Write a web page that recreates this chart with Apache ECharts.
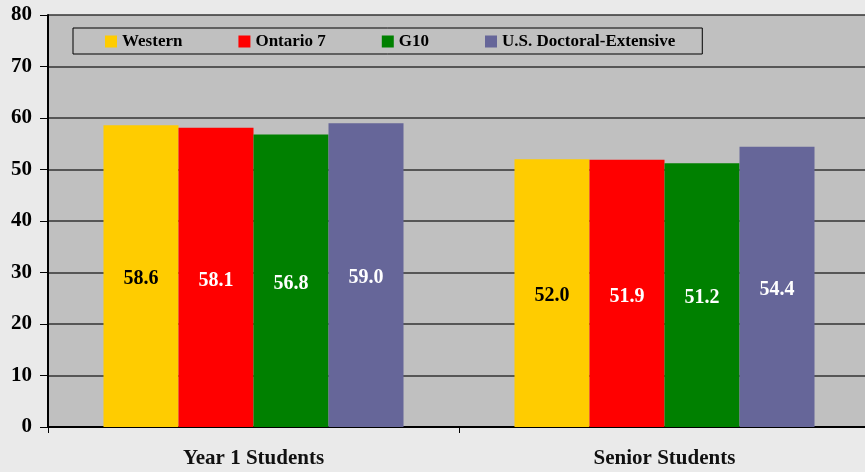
<!DOCTYPE html>
<html>
<head>
<meta charset="utf-8">
<script src="https://cdn.jsdelivr.net/npm/echarts@6/dist/echarts.min.js"></script>
<style>
  html, body { margin: 0; padding: 0; background: #EAEAEA; }
  #chart { width: 865px; height: 472px; }
</style>
</head>
<body>
<div id="chart"></div>
<script>
  // categories and values
  let categories = ['Year 1 Students', 'Senior Students'];
  let western = [58.6, 52.0];
  let ontario7 = [58.1, 51.9];
  let g10 = [56.8, 51.2];
  let usDoctoral = [59.0, 54.4];
  let yTicks = [0, 10, 20, 30, 40, 50, 60, 70, 80];

  let serif = '"Liberation Serif", "Times New Roman", serif';

  function makeSeries(name, data, color, labelColor) {
    return {
      name: name,
      type: 'bar',
      data: data,
      barGap: '0%',
      barCategoryGap: '27%',
      itemStyle: { color: color },
      label: {
        show: true,
        position: 'inside',
        offset: [0, 3],
        color: labelColor,
        fontFamily: serif,
        fontWeight: 'bold',
        fontSize: 20,
        formatter: function (p) { return p.value.toFixed(1); }
      }
    };
  }

  let myChart = echarts.init(document.getElementById('chart'));
  myChart.setOption({
    backgroundColor: '#EAEAEA',
    animation: false,
    legend: {
      left: 73,
      top: 28,
      padding: [5, 27, 4, 32],
      itemGap: 56,
      itemWidth: 12,
      itemHeight: 12,
      icon: 'rect',
      borderColor: '#000',
      borderWidth: 1,
      backgroundColor: '#C0C0C0',
      textStyle: { fontFamily: serif, fontWeight: 'bold', fontSize: 17, color: '#000' },
      data: ['Western', 'Ontario 7', 'G10', 'U.S. Doctoral-Extensive']
    },
    grid: {
      left: 48,
      top: 15,
      height: 412,
      width: 822,
      outerBoundsMode: 'none',
      containLabel: false,
      show: true,
      backgroundColor: '#C0C0C0',
      borderWidth: 0
    },
    xAxis: {
      type: 'category',
      data: categories,
      axisLine: { lineStyle: { color: '#000', width: 2 } },
      axisTick: { show: true, length: 6, lineStyle: { color: '#000' } },
      axisLabel: {
        margin: 21,
        fontFamily: serif,
        fontWeight: 'bold',
        fontSize: 21,
        color: '#111'
      }
    },
    yAxis: {
      type: 'value',
      min: yTicks[0],
      max: yTicks[yTicks.length - 1],
      interval: 10,
      axisLine: { show: true, lineStyle: { color: '#000', width: 2 } },
      axisTick: { show: true, length: 8, lineStyle: { color: '#000' } },
      splitLine: { lineStyle: { color: '#333', width: 1.5 } },
      axisLabel: {
        margin: 16,
        fontFamily: serif,
        fontWeight: 'bold',
        fontSize: 21,
        color: '#000'
      }
    },
    series: [
      makeSeries('Western', western, '#FFCC00', '#000'),
      makeSeries('Ontario 7', ontario7, '#FF0000', '#fff'),
      makeSeries('G10', g10, '#008000', '#fff'),
      makeSeries('U.S. Doctoral-Extensive', usDoctoral, '#666699', '#fff')
    ]
  });
</script>
</body>
</html>
